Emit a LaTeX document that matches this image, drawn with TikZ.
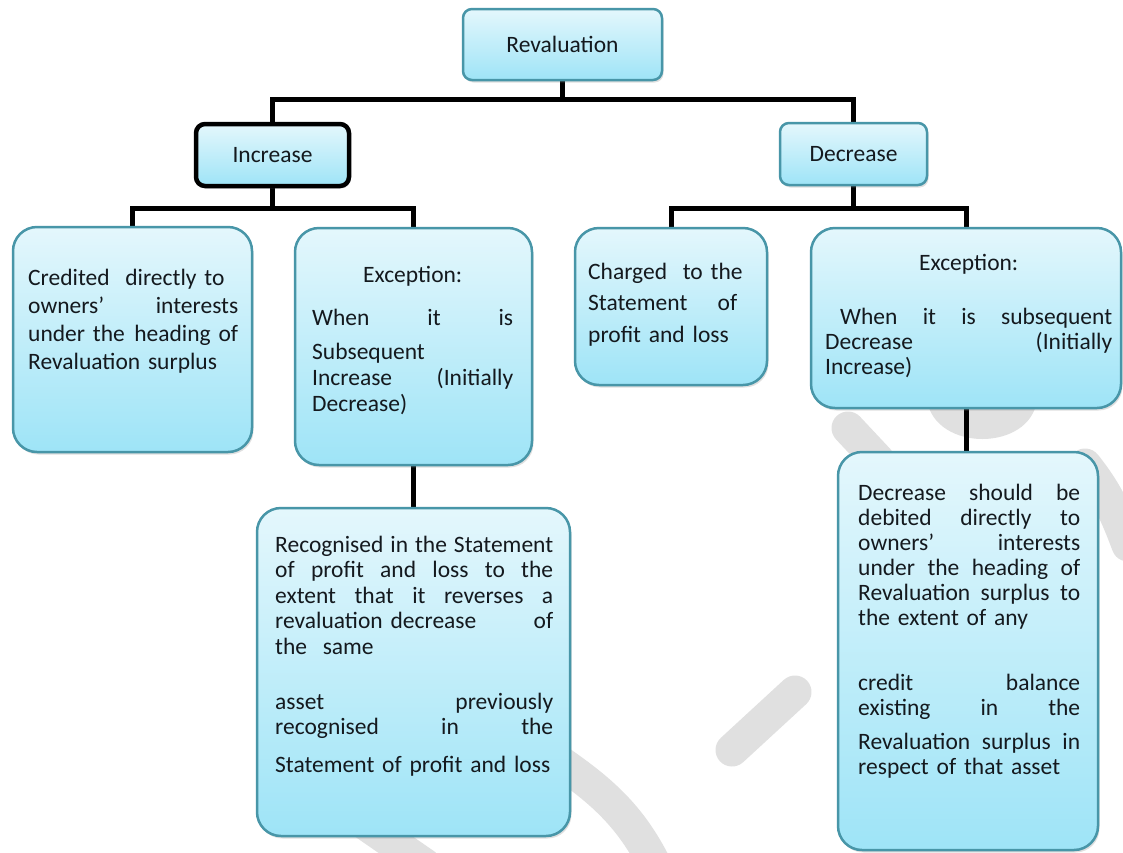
\documentclass[tikz,border=0pt]{standalone}
\usepackage{fontspec}
\setmainfont{Carlito}
\usetikzlibrary{shadows}
\pgfdeclarelayer{background}
\pgfsetlayers{background,main}
\definecolor{bordc}{RGB}{72,150,168}
\definecolor{topc}{RGB}{228,247,252}
\definecolor{botc}{RGB}{158,228,247}
\definecolor{txtc}{RGB}{20,25,30}
\definecolor{wmc}{RGB}{224,224,224}
\tikzset{
  lbl/.style={draw=bordc, line width=2.5pt, rounded corners=9pt,
    top color=topc, bottom color=botc,
    drop shadow={opacity=0.25, shadow xshift=1.5pt, shadow yshift=-2.5pt},
    inner sep=0pt, text=txtc, font=\fontsize{23.5}{26}\selectfont},
  incbox/.style={lbl, draw=black, line width=4.5pt},
  bigbox/.style={lbl, rounded corners=24pt},
  txt/.style={text=txtc, inner sep=0pt, anchor=base west, align=left},
  conn/.style={line width=5pt, black},
  wm/.style={draw=wmc, line width=33pt, line cap=round},
}
\begin{document}
\begin{tikzpicture}[x=1pt, y=-1pt]
\useasboundingbox (0,0) rectangle (1123,852);
% boxes
\node[lbl, minimum width=199pt, minimum height=71pt] (rev) at (562.5,44.5) {Revaluation};
\node[incbox, minimum width=153pt, minimum height=62pt] (inc) at (272.5,155) {Increase};
\node[lbl, minimum width=147pt, minimum height=62pt] (dec) at (853.5,154) {Decrease};
\node[bigbox, minimum width=239pt, minimum height=225pt] (b1) at (132.5,339.5) {};
\node[bigbox, minimum width=237pt, minimum height=237pt] (b2) at (413.5,346.5) {};
\node[bigbox, minimum width=313pt, minimum height=328pt] (b3) at (413.5,672) {};
\node[bigbox, minimum width=192pt, minimum height=157pt] (b4) at (671,306.5) {};
\node[bigbox, minimum width=310pt, minimum height=180pt] (b5) at (966,318) {};
\node[bigbox, minimum width=260pt, minimum height=398pt] (b6) at (968,651) {};
% texts
\node[txt, text width=210pt, font=\fontsize{23.5}{28}\selectfont] (t1) at (28,285)
 {Credited\ \ directly to\\
  owners’\hfill interests\\
  under the\hfill heading of\\
  Revaluation surplus};
\node[txt, text width=201pt, font=\fontsize{23.5}{26}\selectfont] (t2) at (312,282)
 {\makebox[201pt]{Exception:}\\[17pt]
  When\hfill it\hfill is\\[8pt]
  Subsequent\\
  Increase\hfill (Initially\\
  Decrease)};
\node[txt, text width=278pt, font=\fontsize{23.5}{25.5}\selectfont] (t3) at (275,552)
 {Recognised\hfill in\hfill the\hfill Statement\\
  of\hfill profit\hfill and\hfill loss\hfill to\hfill the\\
  extent\hfill that\hfill it\hfill reverses\hfill a\\
  revaluation decrease\hfill of\\
  the\ \ same\\[29.5pt]
  asset\hfill previously\\
  recognised\hfill in\hfill the\\[12.5pt]
  Statement of profit and loss};
\node[txt, text width=165pt, font=\fontsize{23.5}{31.5}\selectfont] (t4) at (588,279)
 {Charged\ \ to the\\
  \makebox[149pt]{Statement\hfill of}\\
  profit and loss};
\node[txt, text width=287pt, font=\fontsize{23.5}{25}\selectfont] (t5) at (825,270)
 {\makebox[287pt]{Exception:}\\[29pt]
  \hspace*{15pt}When\hfill it\hfill is\hfill subsequent\hspace*{10pt}\\
  Decrease\hfill (Initially\\
  Increase)};
\node[txt, text width=222pt, font=\fontsize{23.5}{25}\selectfont] (t6) at (858,500)
 {Decrease\hfill should\hfill be\\
  debited\hfill directly\hfill to\\
  owners’\hfill interests\\
  under\hfill the\hfill heading\hfill of\\
  Revaluation\hfill surplus\hfill to\\
  the extent of any\\[40pt]
  credit\hfill balance\\
  existing\hfill in\hfill the\\[9pt]
  Revaluation\hfill surplus\hfill in\\
  respect of that asset};
% connectors and watermark behind
\coordinate (j0) at (562.5,99);
\coordinate (j1) at (272.5,208);
\coordinate (j2) at (853.5,208);
\begin{pgfonlayer}{background}
\fill[white] (0,0) rectangle (1123,852);
\draw[wm] (732,750) -- (795,692);
\draw[wm] (560,762) .. controls (600,790) and (630,815) .. (655,865);
\draw[wm] (360,820) -- (425,865);
\fill[wmc] (927,400) .. controls (935,452) and (1030,452) .. (1037,400) -- cycle;
\draw[wm] (1085,465) .. controls (1105,490) and (1115,510) .. (1128,545);
\draw[wm] (848,428) -- (878,460);
\draw[conn] (rev.south) -- (j0);
\draw[conn] (inc.north) -- (inc.north |- j0) -- (dec.north |- j0) -- (dec.north);
\draw[conn] (inc.south) -- (j1);
\draw[conn] (b1.north) -- (b1.north |- j1) -- (b2.north |- j1) -- (b2.north);
\draw[conn] (dec.south) -- (j2);
\draw[conn] (b4.north) -- (b4.north |- j2) -- (b5.north |- j2) -- (b5.north);
\draw[conn] (b2.south) -- (b3.north);
\draw[conn] (b5.south) -- (b5.south |- b6.north);
\end{pgfonlayer}
\end{tikzpicture}
\end{document}
